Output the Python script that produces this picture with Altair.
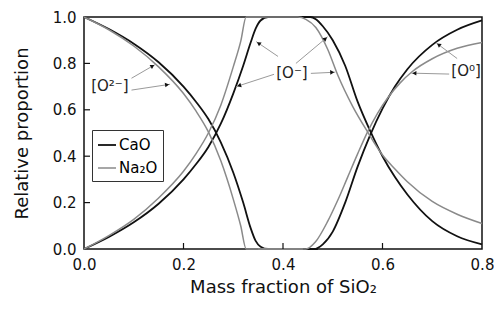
import math
import altair as alt
import pandas as pd

# ---------------- data ----------------
# CaO (black)
cao_o2_x = [0.0, 0.05, 0.10, 0.15, 0.20, 0.225, 0.25, 0.275, 0.30, 0.32, 0.335, 0.345, 0.355, 0.37, 0.47]
cao_o2_y = [1.0, 0.948, 0.885, 0.805, 0.70, 0.635, 0.56, 0.46, 0.33, 0.20, 0.09, 0.035, 0.01, 0.0, 0.0]

cao_om_x = [0.0, 0.05, 0.10, 0.15, 0.20, 0.225, 0.25, 0.275, 0.30, 0.32, 0.335, 0.345, 0.355, 0.37,
            0.455, 0.466, 0.48, 0.50, 0.525, 0.55, 0.575, 0.60, 0.625, 0.65, 0.70, 0.75, 0.80]
cao_om_y = [0.0, 0.052, 0.115, 0.195, 0.30, 0.365, 0.44, 0.54, 0.67, 0.79, 0.89, 0.95, 0.985, 1.0,
            1.0, 0.99, 0.96, 0.90, 0.79, 0.635, 0.51, 0.40, 0.31, 0.235, 0.12, 0.055, 0.02]

cao_o0_x = [0.37, 0.462, 0.48, 0.50, 0.525, 0.55, 0.575, 0.60, 0.625, 0.65, 0.70, 0.75, 0.80]
cao_o0_y = [0.0, 0.0, 0.02, 0.075, 0.20, 0.355, 0.49, 0.605, 0.70, 0.775, 0.88, 0.945, 0.985]

# Na2O (grey)
na_o2_x = [0.0, 0.05, 0.10, 0.15, 0.20, 0.225, 0.25, 0.275, 0.30, 0.315, 0.326, 0.44]
na_o2_y = [1.0, 0.945, 0.875, 0.785, 0.67, 0.595, 0.505, 0.38, 0.215, 0.10, 0.0, 0.0]

na_om_x = [0.0, 0.05, 0.10, 0.15, 0.20, 0.225, 0.25, 0.275, 0.30, 0.315, 0.326, 0.43, 0.446, 0.466,
           0.49, 0.51, 0.54, 0.57, 0.60, 0.625, 0.65, 0.70, 0.75, 0.80]
na_om_y = [0.0, 0.058, 0.128, 0.22, 0.335, 0.41, 0.50, 0.62, 0.785, 0.895, 1.0, 1.0, 0.99, 0.955,
           0.86, 0.75, 0.615, 0.505, 0.405, 0.345, 0.29, 0.205, 0.15, 0.11]

na_o0_x = [0.35, 0.446, 0.465, 0.49, 0.51, 0.53, 0.55, 0.57, 0.59, 0.61, 0.635, 0.66, 0.70, 0.75, 0.80]
na_o0_y = [0.0, 0.0, 0.03, 0.12, 0.21, 0.31, 0.41, 0.505, 0.585, 0.65, 0.715, 0.765, 0.82, 0.865, 0.89]

oxides = ["CaO", "Na₂O"]
oxide_colors = ["#111111", "#8a8a8a"]

# annotation labels
label_text = ["[O²⁻]", "[O⁻]", "[O⁰]"]
label_x = [0.052, 0.418, 0.768]
label_y = [0.702, 0.757, 0.766]

# annotation arrows: start -> tip
arrow_x0 = [0.0955, 0.0955, 0.39, 0.426, 0.382, 0.456, 0.750, 0.734]
arrow_y0 = [0.736, 0.685, 0.83, 0.80, 0.753, 0.757, 0.821, 0.754]
arrow_x1 = [0.143, 0.173, 0.346, 0.49, 0.306, 0.505, 0.708, 0.658]
arrow_y1 = [0.795, 0.71, 0.894, 0.915, 0.70, 0.762, 0.888, 0.758]

tick_vals = [0.0, 0.2, 0.4, 0.6, 0.8, 1.0]
xtick_vals = [0.0, 0.2, 0.4, 0.6, 0.8]

# ---------------- build tables ----------------
W, H = 398, 232
rows = []
for ox, sp, xs, ys in [
    ("CaO", "O2", cao_o2_x, cao_o2_y), ("CaO", "Om", cao_om_x, cao_om_y), ("CaO", "O0", cao_o0_x, cao_o0_y),
    ("Na₂O", "O2", na_o2_x, na_o2_y), ("Na₂O", "Om", na_om_x, na_om_y), ("Na₂O", "O0", na_o0_x, na_o0_y),
]:
    for i, (x, y) in enumerate(zip(xs, ys)):
        rows.append({"oxide": ox, "species": ox + sp, "x": x, "y": y, "order": i})
df = pd.DataFrame(rows)

arr = []
for x0, y0, x1, y1 in zip(arrow_x0, arrow_y0, arrow_x1, arrow_y1):
    dx = (x1 - x0) * W / 0.8
    dy = -(y1 - y0) * H
    L = math.hypot(dx, dy)
    ang = math.degrees(math.atan2(dx, -dy)) % 360
    back = 3.0
    hx = x1 - (dx / L) * back * 0.8 / W
    hy = y1 + (dy / L) * back / H
    arr.append({"x0": x0, "y0": y0, "x1": x1, "y1": y1, "hx": hx, "hy": hy, "ang": ang})
adf = pd.DataFrame(arr)
ldf = pd.DataFrame({"t": label_text, "x": label_x, "y": label_y})
xt = pd.DataFrame({"v": [v for v in xtick_vals if 0 < v < 0.8]})
yt = pd.DataFrame({"v": [v for v in tick_vals if 0 < v < 1.0]})

FONT = "DejaVu Sans"
xscale = alt.Scale(domain=[0, 0.8], nice=False, zero=False)
yscale = alt.Scale(domain=[0, 1], nice=False, zero=False)

lines = alt.Chart(df).mark_line(interpolate="monotone").encode(
    x=alt.X("x:Q", scale=xscale,
            axis=alt.Axis(title="Mass fraction of SiO₂", values=xtick_vals, format=".1f",
                          ticks=False, domain=False, grid=False, labelPadding=8,
                          labelFlush=False, titlePadding=6)),
    y=alt.Y("y:Q", scale=yscale,
            axis=alt.Axis(title="Relative proportion", values=tick_vals, format=".1f",
                          ticks=False, domain=False, grid=False, labelPadding=8,
                          labelFlush=False, titlePadding=21)),
    color=alt.Color("oxide:N", scale=alt.Scale(domain=oxides, range=oxide_colors),
                    legend=alt.Legend(title=None, orient="none", legendX=8, legendY=113,
                                      symbolType="stroke", symbolSize=324, symbolStrokeWidth=1.5,
                                      labelFontSize=15, labelFont=FONT, labelColor="black",
                                      strokeColor="#333333", fillColor="white", padding=5,
                                      rowPadding=5, labelOffset=2)),
    strokeWidth=alt.StrokeWidth("oxide:N", scale=alt.Scale(domain=oxides, range=[1.8, 1.5]), legend=None),
    detail="species:N",
    order="order:Q",
)

arrow_lines = alt.Chart(adf).mark_rule(color="#9a9a9a", strokeWidth=1).encode(
    x="x0:Q", y="y0:Q", x2="x1:Q", y2="y1:Q")
heads = alt.Chart(adf).mark_point(shape="triangle-up", filled=True, color="#111111", size=22, opacity=1).encode(
    x="hx:Q", y="hy:Q", angle=alt.Angle("ang:Q", scale=None))
labels = alt.Chart(ldf).mark_text(font=FONT, fontSize=15, color="#222222").encode(
    x="x:Q", y="y:Q", text="t:N")

xticks = alt.Chart(xt).mark_rule(color="#111111", strokeWidth=1.2).encode(
    x="v:Q", y=alt.value(H), y2=alt.value(H - 6))
yticks = alt.Chart(yt).mark_rule(color="#111111", strokeWidth=1.2).encode(
    y="v:Q", x=alt.value(0), x2=alt.value(6))

chart = alt.layer(lines, arrow_lines, heads, labels, xticks, yticks).properties(
    width=W, height=H,
    padding={"left": 76, "top": 9, "right": 12, "bottom": 52},
    autosize=alt.AutoSizeParams(type="none"),
    background="white",
).configure_view(stroke="#111111", strokeWidth=1.5).configure_axis(
    labelFont=FONT, labelFontSize=15, labelColor="#111111",
    titleFont=FONT, titleFontSize=18, titleColor="#111111", titleFontWeight="normal",
)

chart.save("out.html", embed_options={"renderer": "svg", "actions": False})
